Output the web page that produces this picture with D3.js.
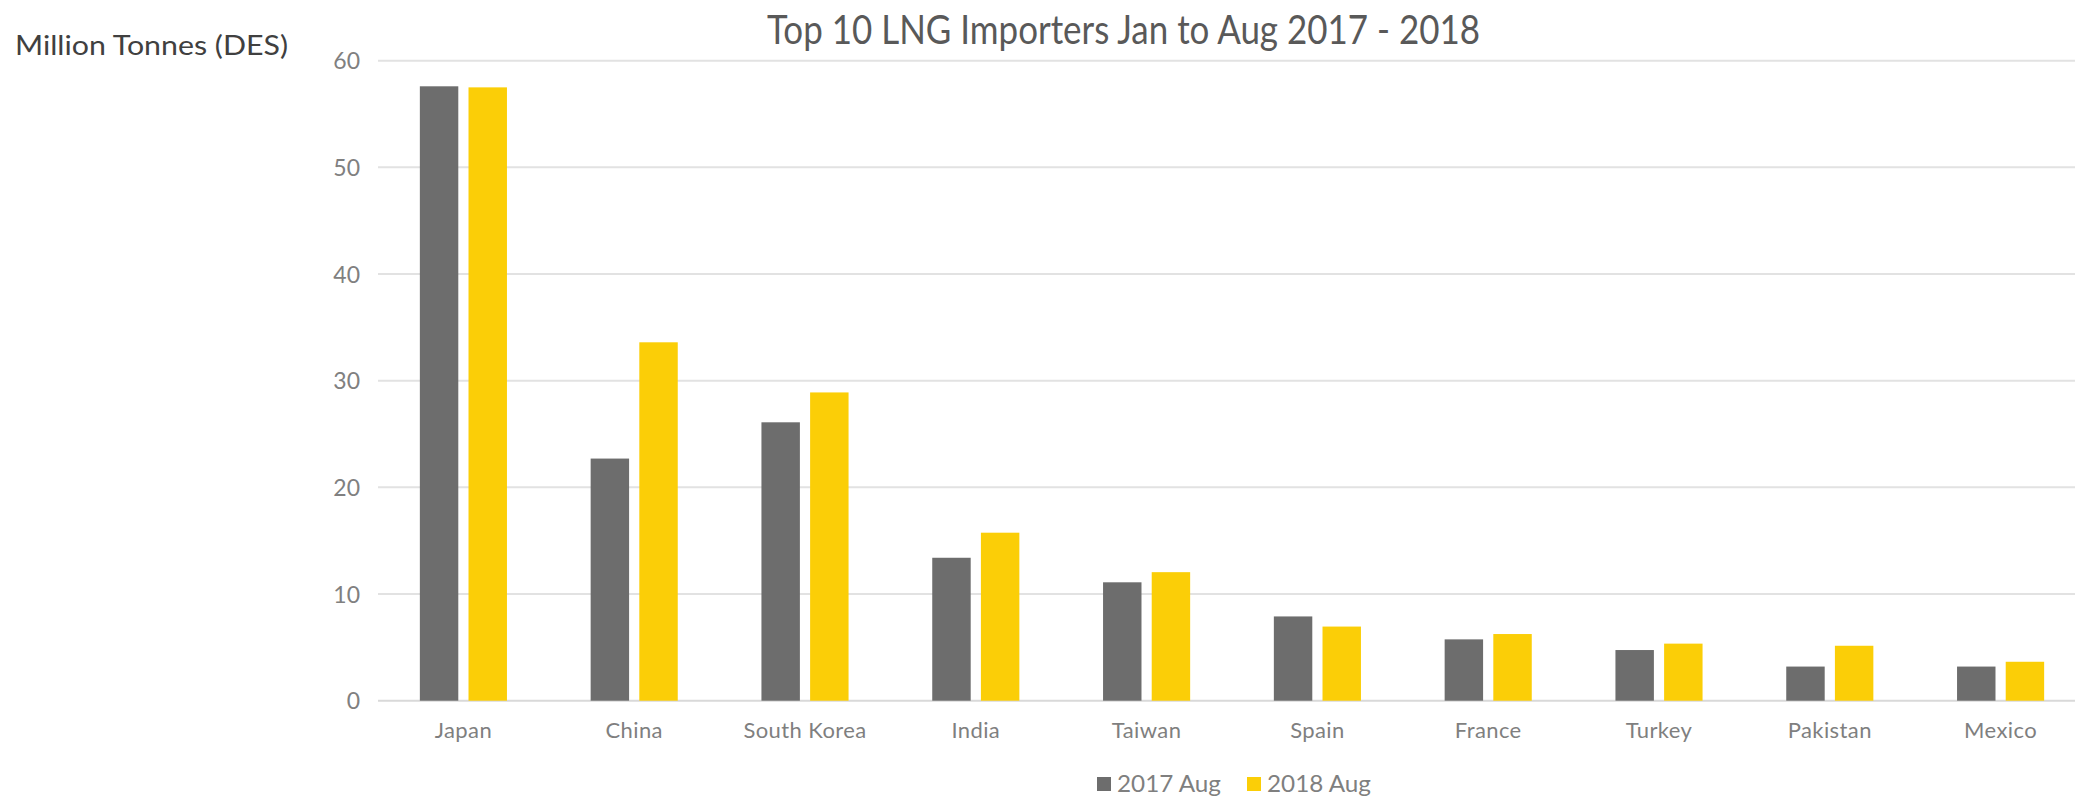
<!DOCTYPE html>
<html>
<head>
<meta charset="utf-8">
<script src="https://cdn.jsdelivr.net/npm/d3@7"></script>
<style>
  html, body { margin: 0; padding: 0; background: #ffffff; }
  svg { display: block; }
</style>
</head>
<body>
<svg id="chart" width="2075" height="798"></svg>
<script>
// ---- data ----
const categories = ["Japan", "China", "South Korea", "India", "Taiwan", "Spain", "France", "Turkey", "Pakistan", "Mexico"];
const seriesNames = ["2017 Aug", "2018 Aug"];
const values2017 = [57.6, 22.7, 26.1, 13.4, 11.1, 7.9, 5.75, 4.75, 3.2, 3.2];
const values2018 = [57.5, 33.6, 28.9, 15.75, 12.05, 6.95, 6.25, 5.35, 5.15, 3.65];
const yTicks = [0, 10, 20, 30, 40, 50, 60];
const titleText = "Top 10 LNG Importers Jan to Aug 2017 - 2018";
const yAxisTitle = "Million Tonnes (DES)";

// ---- layout / style ----
const W = 2075, H = 798;
const colors = { "2017 Aug": "#6d6d6d", "2018 Aug": "#fbce07" };
const font = "Lato, 'Open Sans', sans-serif";

const svg = d3.select("#chart");

const table = categories.map((c, i) => ({ cat: c, "2017 Aug": values2017[i], "2018 Aug": values2018[i] }));

const x0 = d3.scaleBand().domain(categories).range([378, 2086]).paddingInner(0.49).paddingOuter(0.245);
const x1 = d3.scaleBand().domain(seriesNames).range([0, x0.bandwidth()]).paddingInner(0.21);
const y = d3.scaleLinear().domain([0, 60]).range([700.7, 60.7]);

// gridlines
svg.append("g").selectAll("line").data(yTicks).join("line")
  .attr("x1", 378).attr("x2", W)
  .attr("y1", d => y(d)).attr("y2", d => y(d))
  .attr("stroke", d => d === 0 ? "#d9d9d9" : "#e2e2e2")
  .attr("stroke-width", 2);

// y axis labels
const yAxis = d3.axisLeft(y).tickValues(yTicks).tickSize(0).tickPadding(0).tickFormat(d3.format("d"));
const yg = svg.append("g").attr("transform", "translate(360,0)").call(yAxis);
yg.select(".domain").remove();
yg.selectAll("text").attr("font-family", font).attr("font-size", 23).attr("fill", "#808080").attr("dy", "0.35em");

// bars
const groups = svg.append("g").selectAll("g").data(table).join("g")
  .attr("transform", d => `translate(${x0(d.cat)},0)`);
groups.selectAll("rect").data(d => seriesNames.map(s => ({ s, v: d[s] }))).join("rect")
  .attr("x", d => x1(d.s))
  .attr("width", x1.bandwidth())
  .attr("y", d => y(d.v))
  .attr("height", d => y(0) - y(d.v))
  .attr("fill", d => colors[d.s]);

// x axis labels
const xAxis = d3.axisBottom(x0).tickSize(0).tickPadding(0);
const xg = svg.append("g").attr("transform", "translate(0,738)").call(xAxis);
xg.select(".domain").remove();
xg.selectAll("text").attr("font-family", font).attr("font-size", 22).attr("fill", "#7f7f7f")
  .attr("dy", 0).attr("letter-spacing", "0.4px");

// title
svg.append("text").attr("x", 1123.5).attr("y", 43.5).attr("text-anchor", "middle")
  .attr("font-family", font).attr("font-size", 40).attr("fill", "#595959")
  .attr("textLength", 713).attr("lengthAdjust", "spacingAndGlyphs")
  .text(titleText);

// y-axis title
svg.append("text").attr("x", 15).attr("y", 55).attr("font-family", font).attr("font-size", 26)
  .attr("fill", "#404040").attr("textLength", 273).attr("lengthAdjust", "spacingAndGlyphs")
  .text(yAxisTitle);

// legend
const legendX = [1097, 1247];
const lg = svg.append("g").selectAll("g").data(seriesNames).join("g")
  .attr("transform", (d, i) => `translate(${legendX[i]},777)`);
lg.append("rect").attr("width", 14).attr("height", 14).attr("fill", d => colors[d]);
lg.append("text").attr("x", 20).attr("y", 15).attr("font-family", font).attr("font-size", 23)
  .attr("fill", "#7f7f7f").attr("textLength", 104).attr("lengthAdjust", "spacingAndGlyphs").text(d => d);
</script>
</body>
</html>
